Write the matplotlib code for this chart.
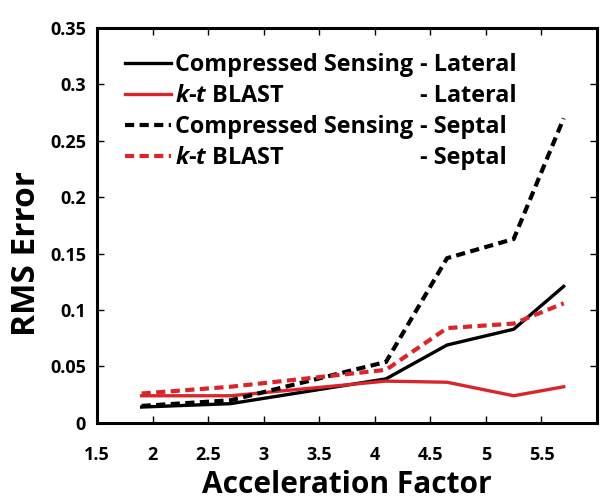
import matplotlib.pyplot as plt

plt.rcParams['font.family'] = 'Open Sans'
plt.rcParams['font.weight'] = 'bold'
plt.rcParams['axes.labelweight'] = 'bold'
plt.rcParams['mathtext.fontset'] = 'custom'
plt.rcParams['mathtext.it'] = 'Open Sans:italic:bold'
plt.rcParams['mathtext.rm'] = 'Open Sans:bold'

accel = [1.9, 2.7, 4.1, 4.65, 5.25, 5.7]
cs_lateral = [0.014, 0.017, 0.039, 0.069, 0.083, 0.121]
kt_lateral = [0.024, 0.024, 0.037, 0.036, 0.024, 0.032]
cs_septal = [0.015, 0.020, 0.054, 0.146, 0.163, 0.270]
kt_septal = [0.026, 0.032, 0.047, 0.084, 0.088, 0.106]

red = '#d8262b'

fig = plt.figure(figsize=(6, 5.01), dpi=100)
ax = fig.add_axes([0.162, 0.156, 0.833, 0.788])

ax.plot(accel, cs_lateral, color='black', lw=2.4, label='Compressed Sensing')
ax.plot(accel, kt_lateral, color=red, lw=2.4, label='$k$-$t$ BLAST')
ax.plot(accel, cs_septal, color='black', lw=3, ls=(0, (2.2, 1.3)), label='Compressed Sensing')
ax.plot(accel, kt_septal, color=red, lw=3, ls=(0, (2.2, 1.3)), label='$k$-$t$ BLAST')

ax.set_xlim(1.5, 6)
ax.set_ylim(0, 0.35)
ax.set_xticks([1.5, 2, 2.5, 3, 3.5, 4, 4.5, 5, 5.5])
ax.set_xticklabels(['1.5', '2', '2.5', '3', '3.5', '4', '4.5', '5', '5.5'])
ax.set_yticks([0, 0.05, 0.1, 0.15, 0.2, 0.25, 0.3, 0.35])
ax.set_yticklabels(['0', '0.05', '0.1', '0.15', '0.2', '0.25', '0.3', '0.35'])
ax.tick_params(direction='in', top=True, right=True, length=5, width=1,
               labelsize=13)
ax.tick_params(axis='x', pad=17)
ax.tick_params(axis='y', pad=8)
for s in ax.spines.values():
    s.set_linewidth(2.2)

ax.set_xlabel('Acceleration Factor', fontsize=21.5, labelpad=4)
ax.set_ylabel('RMS Error', fontsize=24)
ax.yaxis.set_label_coords(-0.108, 0.43)

leg = ax.legend(loc='upper left', bbox_to_anchor=(0.056, 0.937), frameon=False,
                fontsize=16.8, handlelength=1.95, handletextpad=0.2,
                labelspacing=0.3, borderaxespad=0, borderpad=0)

# put the "- Lateral"/"- Septal" parts in a column aligned with each legend row
fig.canvas.draw()
suffixes = ['- Lateral', '- Lateral', '- Septal', '- Septal']
inv = ax.transAxes.inverted()
for s, t in zip(suffixes, leg.get_texts()):
    bb = t.get_window_extent()
    y = inv.transform((0, (bb.y0 + bb.y1) / 2))[1]
    ax.text(0.646, y, s, transform=ax.transAxes, fontsize=16.8, va='center')

fig.savefig('out.png', dpi=100)
